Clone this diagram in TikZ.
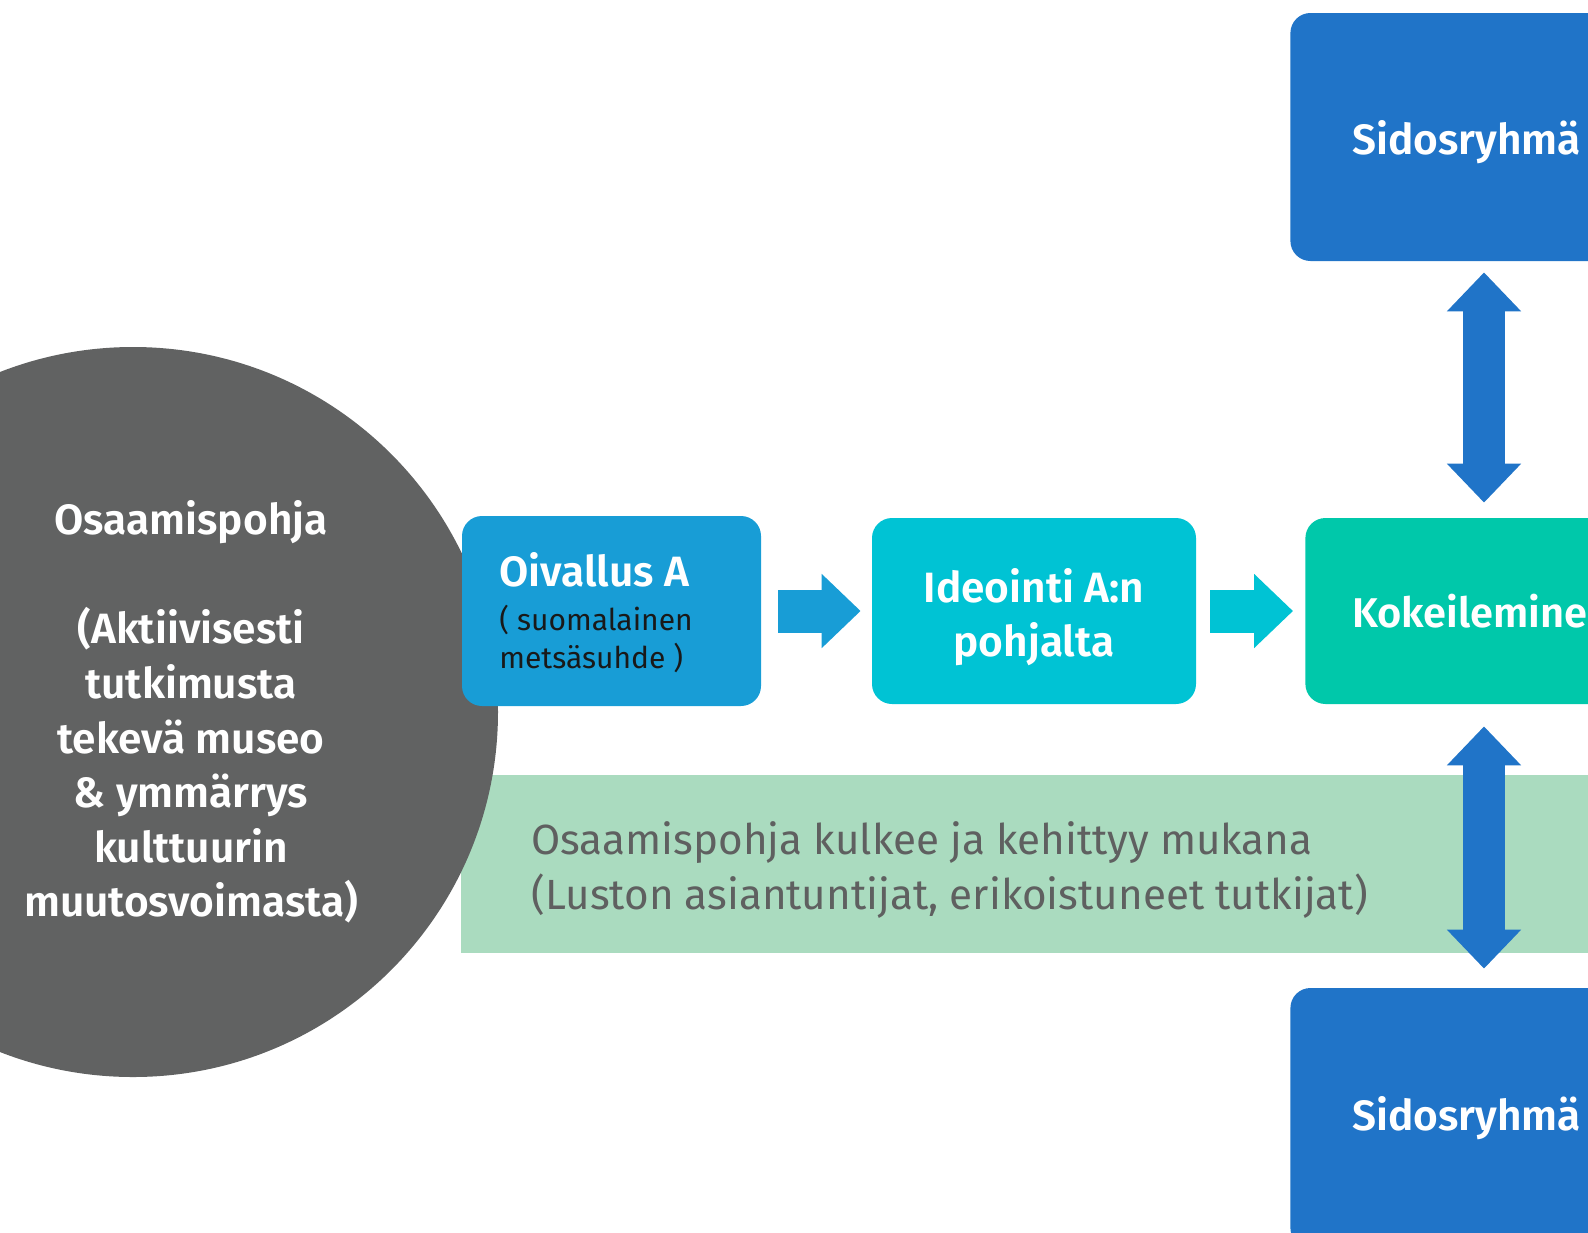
\documentclass[tikz,border=0pt]{standalone}
\usepackage{fontspec}
\setmainfont{Fira Sans}[BoldFont={Fira Sans SemiBold}]
\usetikzlibrary{arrows.meta}
\definecolor{osagray}{HTML}{616262}
\definecolor{oivblue}{HTML}{189DD6}
\definecolor{idecyan}{HTML}{00C3D4}
\definecolor{kokgreen}{HTML}{00C8AA}
\definecolor{sidblue}{HTML}{2074C8}
\definecolor{bandgreen}{HTML}{AADBBF}
\definecolor{bandtext}{HTML}{5F6060}
\newcommand{\BigTxt}{\fontsize{21.2}{27.3}\selectfont}
\newcommand{\BandTxt}{\fontsize{21.1}{27.3}\selectfont}
\newcommand{\SmallTxt}{\fontsize{15}{19}\selectfont}

\begin{document}
\begin{tikzpicture}[x=0.5pt, y=-0.5pt,
box/.style={rounded corners=10pt, inner sep=0pt},
boxtext/.style={inner sep=0pt, text=white, font=\BigTxt\bfseries},
fatarrow/.style={line width=21.5pt, -{Triangle[width=36pt, length=19.5pt]}},
dblarrow/.style={line width=21pt, {Triangle[width=36pt, length=19.5pt]}-{Triangle[width=36pt, length=19.5pt]}},
]
\useasboundingbox (0,0) rectangle (1588,1232);
\clip (0,0) rectangle (1588,1232);

%%%%%%%%%%%%%%%%%%%%%%%% BAND %%%%%%%%%%%%%%%%%%%%%%%%
\node[fill=bandgreen, anchor=west, inner sep=0pt, minimum width=600pt, minimum height=89pt] (band) at (461,864) {};
\node[inner sep=0pt, anchor=west, align=flush left, text=bandtext, font=\BandTxt] (bandtxt) at (531,870)
  {Osaamispohja kulkee ja kehittyy mukana\\(Luston asiantuntijat, erikoistuneet tutkijat)};

%%%%%%%%%%%%%%%%%%%%%%%% CIRCLE %%%%%%%%%%%%%%%%%%%%%%%%
\node[circle, fill=osagray, minimum size=365pt, inner sep=0pt] (osa) at (133,712) {};
\node[boxtext, align=center] (osatxt) at (191,712)
  {Osaamispohja\\[27.3pt](Aktiivisesti\\tutkimusta\\tekevä museo\\\& ymmärrys\\kulttuurin\\muutosvoimasta)};

%%%%%%%%%%%%%%%%%%%%%%%% BOXES %%%%%%%%%%%%%%%%%%%%%%%%
\node[box, fill=oivblue, minimum width=149.5pt, minimum height=95pt] (oiv) at (611.5,611) {};
\node[boxtext, anchor=west, align=flush left, font=\SmallTxt, text=black!90] (oivtxt) at (499,613)
  {{\BigTxt\bfseries\color{white}Oivallus A}\\[3pt]( suomalainen\\metsäsuhde )};

\node[box, fill=idecyan, minimum width=162pt, minimum height=93pt] (ide) at (1034,611) {};
\node[boxtext, align=center] (idetxt) at (1034,617) {Ideointi A:n\\pohjalta};

\node[box, fill=kokgreen, anchor=west, minimum width=200pt, minimum height=93pt] (kok) at (1305,611) {};
\node[boxtext, anchor=west, font=\fontsize{20.8}{27.3}\selectfont\bfseries] (koktxt) at (1352,611) {Kokeilemine};

\node[box, fill=sidblue, anchor=west, minimum width=200pt, minimum height=124pt] (sid1) at (1290,137) {};
\node[boxtext, anchor=west] (sid1txt) at (1352,142) {Sidosryhmä};

\node[box, fill=sidblue, anchor=west, minimum width=200pt, minimum height=130pt] (sid2) at (1290,1118) {};
\node[boxtext, anchor=west] (sid2txt) at (1352,1118) {Sidosryhmä};

%%%%%%%%%%%%%%%%%%%%%%%% ARROWS %%%%%%%%%%%%%%%%%%%%%%%%
\coordinate (vaxis) at (1484,0);
\draw[fatarrow, oivblue, shorten <=8.5pt, shorten >=5.5pt] (oiv.east) -- (ide.west);
\draw[fatarrow, idecyan, shorten <=7pt, shorten >=6pt] (ide.east) -- (kok.west);
\draw[dblarrow, sidblue, shorten <=5.5pt, shorten >=7.5pt] (vaxis |- sid1.south) -- (vaxis |- kok.north);
\draw[dblarrow, sidblue, shorten <=11pt, shorten >=9.5pt] (vaxis |- kok.south) -- (vaxis |- sid2.north);
\end{tikzpicture}
\end{document}
